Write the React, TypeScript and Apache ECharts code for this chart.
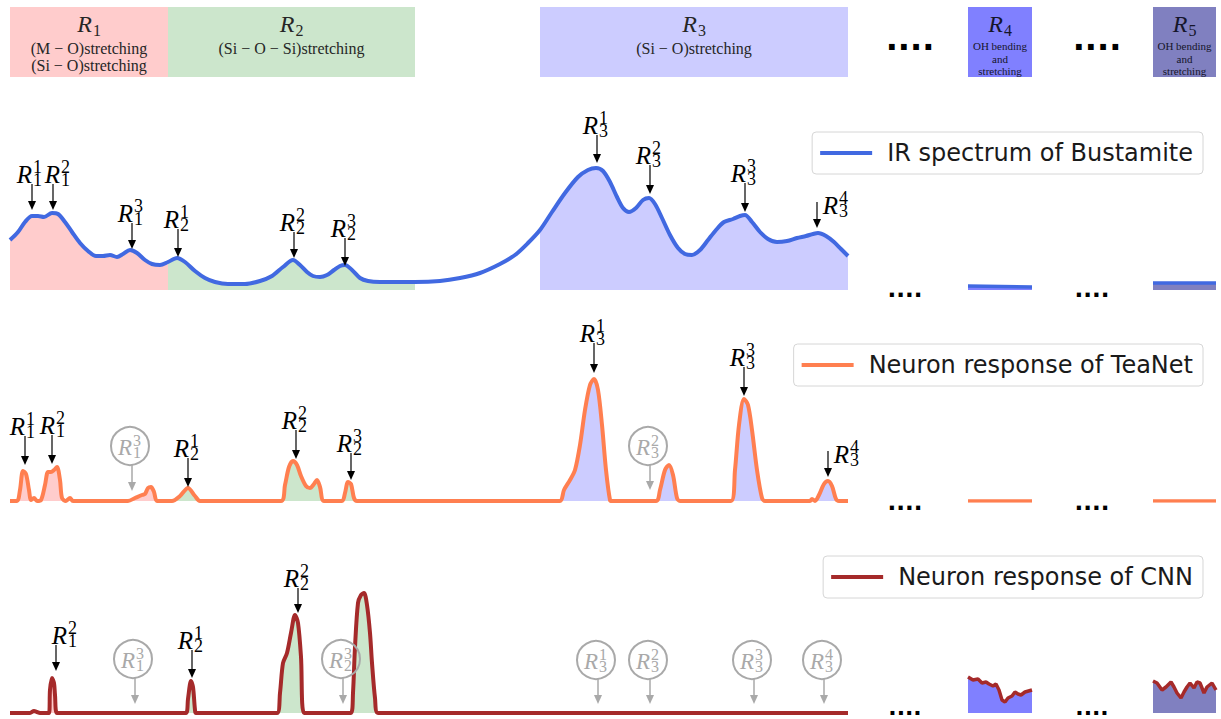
import React, { useEffect, useRef } from 'react';
import * as echarts from 'echarts';

// ---------------- data ----------------
const regionLabels = ['1', '2', '3', '4', '5'];
const regionDescriptions = [
  ['(M − O)stretching', '(Si − O)stretching'],
  ['(Si − O − Si)stretching'],
  ['(Si − O)stretching'],
  ['OH bending', 'and', 'stretching'],
  ['OH bending', 'and', 'stretching'],
];
const regionColors = ['#ffcccc', '#cce6cc', '#ccccff', '#8080ff', '#8080c0'];
const mainRegionSpans = [[0, 158], [158, 405], [530, 838]];
const r4Span = [[0, 64]];
const r5Span = [[0, 63]];

const seriesNames = ['IR spectrum of Bustamite', 'Neuron response of TeaNet', 'Neuron response of CNN'];
const seriesColors = ['#4169e1', '#ff7f50', '#a52a2a'];

const irSpectrum = [
  [0, 50], [8, 58], [15, 68], [22, 74], [28, 74], [34, 73], [42, 77], [48, 76], [55, 68], [62, 58],
  [70, 47], [78, 39], [86, 34], [93, 34], [100, 35], [107, 33], [113, 36], [120, 40], [127, 37], [135, 30],
  [142, 26], [150, 25], [158, 28], [167, 32], [175, 28], [185, 19], [195, 12], [205, 8], [218, 6], [235, 6],
  [250, 9], [262, 14], [273, 23], [283, 30], [290, 25], [297, 18], [303, 14], [310, 13], [317, 15], [324, 20],
  [330, 24], [335, 25], [342, 20], [350, 12], [358, 9], [370, 8], [390, 8], [405, 8], [430, 9], [450, 12],
  [470, 17], [490, 26], [505, 35], [518, 47], [530, 60], [542, 78], [555, 97], [568, 113], [578, 120], [586, 122],
  [593, 119], [600, 108], [607, 93], [613, 82], [619, 78], [626, 82], [633, 90], [639, 92], [645, 86], [652, 72],
  [660, 55], [668, 42], [675, 36], [682, 35], [690, 40], [698, 50], [706, 60], [714, 68], [723, 71], [730, 74],
  [735, 75], [742, 68], [750, 58], [758, 51], [767, 48], [777, 49], [787, 52], [796, 54], [803, 56], [808, 57],
  [816, 54], [824, 48], [831, 41], [838, 34],
];
const irR4 = [[0, 4], [64, 3]];
const irR5 = [[0, 7], [63, 7]];

const teaNetResponse = [
  [0, 0], [7, 0], [10, 11], [13, 30], [16, 27], [19, 11], [21, 1], [24, 3], [27, 0], [31, 1],
  [35, 16], [38, 29], [41, 29], [44, 31], [47, 34], [50, 21], [52, 3], [56, 0], [60, 3], [63, 0],
  [118, 0], [125, 3], [132, 6], [135, 7], [138, 13], [141, 14], [144, 9], [147, 0], [158, 0], [162, 0],
  [170, 5], [178, 13], [185, 5], [190, 0], [271, 0], [275, 16], [279, 34], [283, 40], [287, 36], [291, 25],
  [296, 15], [300, 13], [304, 17], [307, 21], [310, 14], [314, 0], [332, 0], [335, 8], [338, 19], [341, 17],
  [344, 3], [347, 0], [405, 0], [530, 0], [550, 0], [554, 11], [560, 21], [565, 31], [570, 56], [575, 91],
  [580, 116], [584, 122], [588, 111], [592, 76], [596, 31], [600, 1], [602, 0], [646, 0], [650, 11], [655, 31],
  [659, 36], [663, 26], [667, 3], [670, 0], [721, 0], [725, 31], [729, 76], [734, 102], [738, 96], [742, 71],
  [747, 31], [752, 3], [755, 0], [800, 0], [802, 2], [805, 0], [809, 6], [814, 17], [818, 20], [822, 15],
  [826, 2], [829, 0], [838, 0],
];
const teaR4 = [[0, 0], [64, 0]];
const teaR5 = [[0, 0], [63, 0]];

const cnnResponse = [
  [0, 0], [20, 0], [24, 2], [27, 1], [30, 0], [39, 0], [40, 23], [42, 35], [44, 30], [45, 18],
  [47, 0], [148, 0], [158, 0], [176, 0], [178, 14], [181, 32], [183, 26], [185, 3], [186, 0], [267, 0],
  [270, 20], [273, 50], [277, 60], [281, 80], [285, 98], [288, 90], [291, 56], [294, 0], [341, 0], [343, 20],
  [345, 66], [348, 110], [351, 118], [354, 120], [357, 108], [360, 80], [362, 50], [365, 15], [368, 0], [405, 0],
  [530, 0], [838, 0],
];
const cnnR4 = [
  [0, 36], [5, 33], [10, 34], [14, 30], [18, 31], [21, 29], [25, 27], [28, 29], [31, 23], [34, 13],
  [37, 11], [40, 15], [44, 17], [47, 21], [50, 19], [53, 18], [57, 21], [64, 23],
];
const cnnR5 = [
  [0, 32], [4, 30], [9, 23], [13, 26], [18, 31], [21, 26], [24, 20], [28, 15], [31, 21], [34, 26],
  [37, 30], [41, 25], [44, 31], [47, 30], [51, 20], [54, 26], [59, 30], [63, 23],
];

type Ann = { x: number; tip: number; len: number; sup: string; sub: string; gray?: boolean; side?: string; dx?: number };
const irAnnotations: Ann[] = [
  { x: 22, tip: 80, len: 26, sup: '1', sub: '1', dx: -1 },
  { x: 43, tip: 80, len: 26, sup: '2', sub: '1', dx: 6 },
  { x: 122, tip: 41, len: 26, sup: '3', sub: '1' },
  { x: 168, tip: 33, len: 28, sup: '1', sub: '2' },
  { x: 284, tip: 32, len: 26, sup: '2', sub: '2' },
  { x: 335, tip: 24, len: 28, sup: '3', sub: '2' },
  { x: 587, tip: 127, len: 28, sup: '1', sub: '3' },
  { x: 640, tip: 96, len: 29, sup: '2', sub: '3' },
  { x: 735, tip: 78, len: 29, sup: '3', sub: '3' },
  { x: 807, tip: 62, len: 26, sup: '4', sub: '3', side: 'right' },
];
const teaAnnotations: Ann[] = [
  { x: 15, tip: 36, len: 29, sup: '1', sub: '1', dx: -1 },
  { x: 42, tip: 37, len: 29, sup: '2', sub: '1', dx: 2 },
  { x: 122, tip: 10, len: 26, sup: '3', sub: '1', gray: true },
  { x: 178, tip: 14, len: 29, sup: '1', sub: '2' },
  { x: 286, tip: 42, len: 29, sup: '2', sub: '2' },
  { x: 341, tip: 21, len: 27, sup: '3', sub: '2' },
  { x: 584, tip: 128, len: 30, sup: '1', sub: '3' },
  { x: 640, tip: 11, len: 25, sup: '2', sub: '3', gray: true },
  { x: 734, tip: 105, len: 29, sup: '3', sub: '3' },
  { x: 818, tip: 24, len: 26, sup: '4', sub: '3', side: 'right' },
];
const cnnAnnotations: Ann[] = [
  { x: 46, tip: 42, len: 26, sup: '2', sub: '1', dx: 10 },
  { x: 125, tip: 9, len: 26, sup: '3', sub: '1', gray: true },
  { x: 182, tip: 35, len: 28, sup: '1', sub: '2' },
  { x: 288, tip: 100, len: 25, sup: '2', sub: '2' },
  { x: 333, tip: 9, len: 26, sup: '3', sub: '2', gray: true },
  { x: 588, tip: 9, len: 25, sup: '1', sub: '3', gray: true },
  { x: 640, tip: 9, len: 25, sup: '2', sub: '3', gray: true },
  { x: 744, tip: 9, len: 25, sup: '3', sub: '3', gray: true },
  { x: 814, tip: 9, len: 25, sup: '4', sub: '3', gray: true },
];

const panels = [
  { main: irSpectrum, r4: irR4, r5: irR5, ann: irAnnotations },
  { main: teaNetResponse, r4: teaR4, r5: teaR5, ann: teaAnnotations },
  { main: cnnResponse, r4: cnnR4, r5: cnnR5, ann: cnnAnnotations },
];

// ---------------- layout ----------------
const BASES = [290, 501, 713];
const YMAX = 190;
const COLS = [
  { left: 10, width: 838, max: 838 },
  { left: 968, width: 64, max: 64 },
  { left: 1153, width: 63, max: 63 },
];
const LEGEND_TOPS = [132, 344, 556];
const SERIF = '"Liberation Serif"';

function txt(text: string, x: number, y: number, font: string, fill: string, align: string, lineHeight?: number) {
  const style: any = { text, x, y, font, fill, align, textAlign: align, verticalAlign: 'middle', textVerticalAlign: 'middle' };
  if (lineHeight) style.lineHeight = lineHeight;
  return { type: 'text', style };
}

function annotationRender(list: Ann[]) {
  return (params: any, api: any) => {
    const a = list[params.dataIndex];
    const [px, py] = api.coord([a.x, a.tip]);
    const gray = !!a.gray;
    const col = gray ? '#a9a9a9' : '#000000';
    const headLen = 9;
    const hw = 4;
    const top = py - a.len;
    const children: any[] = [
      { type: 'line', shape: { x1: px, y1: top, x2: px, y2: py - headLen + 1 }, style: { stroke: col, lineWidth: gray ? 1.5 : 1.2 } },
      { type: 'polygon', shape: { points: [[px - hw, py - headLen], [px + hw, py - headLen], [px, py]] }, style: { fill: col } },
    ];
    const dx = a.dx || 0;
    let lx: number;
    let ly: number;
    let rSize = 25;
    let dSize = 18;
    let lh = 13;
    if (gray) {
      const cx = px - 2 + dx;
      const cy = top - 19;
      children.push({ type: 'circle', shape: { cx, cy, r: 19 }, style: { fill: 'none', stroke: col, lineWidth: 2 } });
      lx = cx + 2;
      ly = cy + 1;
      rSize = 23;
      dSize = 16;
      lh = 12;
    } else if (a.side === 'right') {
      lx = px + 21 + dx;
      ly = top + 3;
    } else {
      lx = px + 1 + dx;
      ly = top - 10;
    }
    children.push(txt('R', lx, ly, `italic ${rSize}px ${SERIF}`, col, 'right'));
    children.push(txt(`${a.sup}\n${a.sub}`, lx + 1, ly - 1, `${dSize}px ${SERIF}`, col, 'left', lh));
    return { type: 'group', children };
  };
}

function headerRender(startIndex: number) {
  return (params: any, api: any) => {
    const k = startIndex + params.dataIndex;
    const x0 = api.coord([api.value(0), 0])[0];
    const x1 = api.coord([api.value(1), 0])[0];
    const cx = (x0 + x1) / 2;
    const small = k >= 3;
    const tc = small ? '#15152a' : '#262626';
    const children: any[] = [
      { type: 'rect', shape: { x: x0, y: 7, width: x1 - x0, height: 70 }, style: { fill: regionColors[k] } },
      txt('R', cx + 3, 23.5, `italic 24px ${SERIF}`, tc, 'right'),
      txt(regionLabels[k], cx + 4, 30.5, `16px ${SERIF}`, tc, 'left'),
    ];
    regionDescriptions[k].forEach((line, j) => {
      children.push(
        txt(line, cx, small ? 46 + j * 12.5 : 48.5 + j * 17, small ? `11px ${SERIF}` : `16px ${SERIF}`, tc, 'center')
      );
    });
    return { type: 'group', children };
  };
}

function buildOption() {
  const grid: any[] = [];
  const xAxis: any[] = [];
  const yAxis: any[] = [];
  const series: any[] = [];
  BASES.forEach((base) => {
    COLS.forEach((c) => {
      const gi = grid.length;
      grid.push({ left: c.left, width: c.width, top: base - YMAX, height: YMAX, containLabel: false });
      xAxis.push({ type: 'value', gridIndex: gi, min: 0, max: c.max, show: false });
      yAxis.push({ type: 'value', gridIndex: gi, min: 0, max: YMAX, show: false });
    });
  });

  panels.forEach((pd, p) => {
    const gMain = p * 3;
    const color = seriesColors[p];
    mainRegionSpans.forEach((span, k) => {
      series.push({
        name: `${seriesNames[p]} region ${k + 1}`,
        type: 'line',
        xAxisIndex: gMain,
        yAxisIndex: gMain,
        data: pd.main.filter((pt) => pt[0] >= span[0] && pt[0] <= span[1]),
        smooth: 0.3,
        symbol: 'none',
        lineStyle: { width: 0 },
        areaStyle: { color: regionColors[k], opacity: 1 },
        silent: true,
        z: 1,
      });
    });
    series.push({
      name: seriesNames[p],
      type: 'line',
      xAxisIndex: gMain,
      yAxisIndex: gMain,
      data: pd.main,
      smooth: 0.3,
      symbol: 'none',
      lineStyle: { color, width: 4 },
      itemStyle: { color },
      silent: true,
      z: 3,
    });
    [pd.r4, pd.r5].forEach((d, j) => {
      const gi = gMain + 1 + j;
      series.push({
        name: `${seriesNames[p]} R${4 + j}`,
        type: 'line',
        xAxisIndex: gi,
        yAxisIndex: gi,
        data: d,
        symbol: 'none',
        lineStyle: { color, width: 3.5 },
        itemStyle: { color },
        areaStyle: { color: regionColors[3 + j], opacity: 1 },
        silent: true,
        z: 3,
      });
    });
    series.push({
      name: `${seriesNames[p]} peaks`,
      type: 'custom',
      coordinateSystem: 'cartesian2d',
      xAxisIndex: gMain,
      yAxisIndex: gMain,
      data: pd.ann.map((a) => [a.x, a.tip]),
      renderItem: annotationRender(pd.ann),
      silent: true,
      z: 10,
    });
  });

  // header boxes (drawn above the top panel's grids)
  series.push({
    name: 'regions', type: 'custom', coordinateSystem: 'cartesian2d', xAxisIndex: 0, yAxisIndex: 0,
    data: mainRegionSpans, renderItem: headerRender(0), silent: true, z: 5,
  });
  series.push({
    name: 'region R4', type: 'custom', coordinateSystem: 'cartesian2d', xAxisIndex: 1, yAxisIndex: 1,
    data: r4Span, renderItem: headerRender(3), silent: true, z: 5,
  });
  series.push({
    name: 'region R5', type: 'custom', coordinateSystem: 'cartesian2d', xAxisIndex: 2, yAxisIndex: 2,
    data: r5Span, renderItem: headerRender(4), silent: true, z: 5,
  });

  const legend = seriesNames.map((n, p) => ({
    data: [n],
    right: 18,
    top: LEGEND_TOPS[p],
    selectedMode: false,
    icon: 'rect',
    itemWidth: 52,
    itemHeight: 4,
    padding: [9, 10, 9, 8],
    borderColor: '#d6d6d6',
    borderWidth: 1,
    borderRadius: 4,
    backgroundColor: '#ffffff',
    textStyle: { fontFamily: 'DejaVu Sans', fontSize: 24, color: '#1a1a1a', padding: [0, 0, 0, 10] },
  }));

  const dotSpecs = [
    { x: 910, y: 46, size: 32 },
    { x: 1097, y: 46, size: 32 },
    { x: 905, y: 294, size: 23 },
    { x: 1092, y: 294, size: 23 },
    { x: 905, y: 507, size: 23 },
    { x: 1092, y: 507, size: 23 },
    { x: 905, y: 713, size: 22 },
    { x: 1092, y: 713, size: 22 },
  ];
  const graphic = dotSpecs.map((d) => ({
    type: 'text',
    x: d.x,
    y: d.y - d.size * 0.23,
    silent: true,
    style: {
      text: '....',
      font: `bold ${d.size}px "DejaVu Sans"`,
      fill: '#000',
      align: 'center',
      textAlign: 'center',
      verticalAlign: 'middle',
      textVerticalAlign: 'middle',
    },
  }));

  return {
    animation: false,
    backgroundColor: '#ffffff',
    grid,
    xAxis,
    yAxis,
    legend,
    graphic,
    series,
  };
}

export default function App() {
  const ref = useRef<HTMLDivElement>(null);
  useEffect(() => {
    const chart = echarts.init(ref.current as HTMLDivElement, undefined, { renderer: 'svg' });
    chart.setOption(buildOption() as any);
    return () => chart.dispose();
  }, []);
  return (
    <div
      ref={ref}
      style={{ position: 'fixed', left: 0, top: 0, width: 1221, height: 719, background: '#fff' }}
    />
  );
}
